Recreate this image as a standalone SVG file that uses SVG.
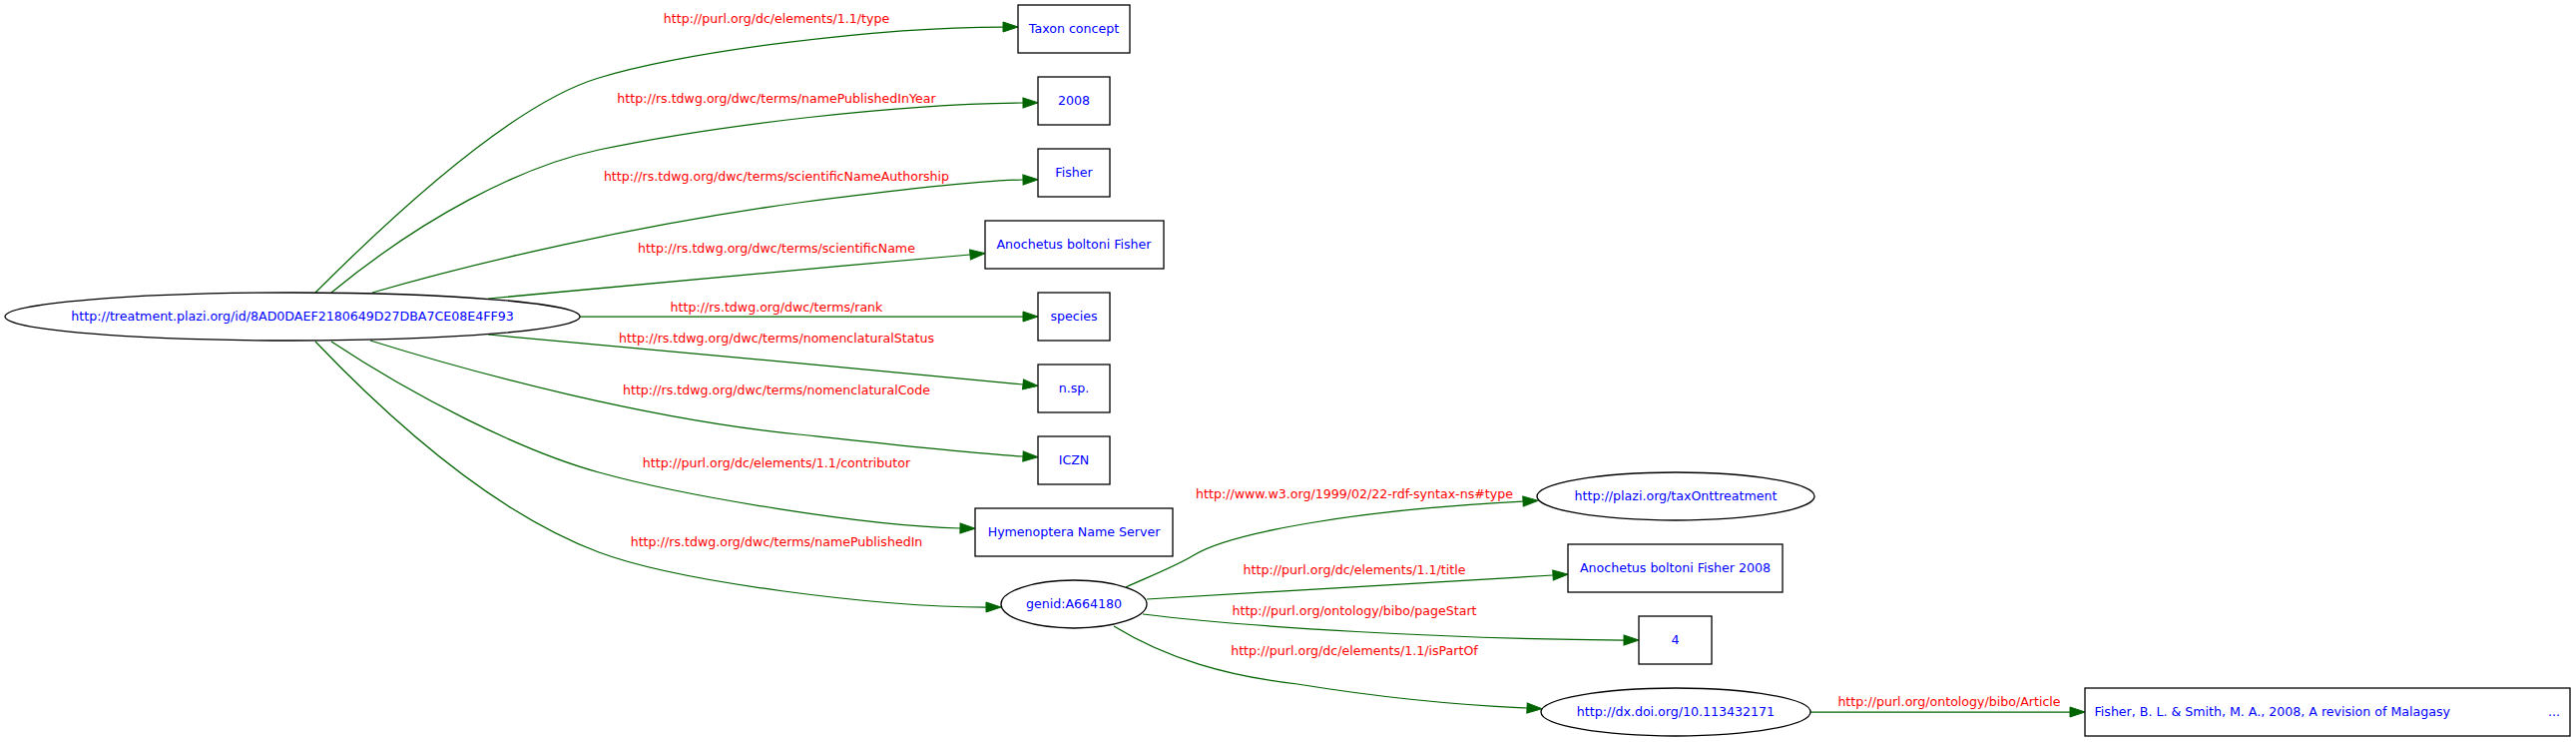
<svg xmlns="http://www.w3.org/2000/svg" width="2581" height="743" viewBox="0 0 2581 743">
<style>
.node ellipse,.node rect{fill:#fff;stroke:#000;stroke-width:1.3}
.nl{font-family:"DejaVu Sans",sans-serif;font-size:12.6px;fill:#0000ff;text-anchor:middle}
.el{font-family:"DejaVu Sans",sans-serif;font-size:12.6px;fill:#ff0000;text-anchor:middle}
.edges path{fill:none;stroke:#006400;stroke-width:1.25;marker-end:url(#arr)}
</style>
<defs>
<marker id="arr" markerUnits="userSpaceOnUse" markerWidth="16" markerHeight="11" refX="0" refY="5" orient="auto" overflow="visible">
<path d="M0,0 L15,5 L0,10 z" fill="#006400" stroke="#006400" stroke-width="1"/>
</marker>
</defs>
<rect width="2581" height="743" fill="#fff"/>
<g class="edges" id="edges">
<path d="M316,293 C386,223 510,105 600,78 C690,51 880,27 1005,27"/>
<path d="M332,293 C422,219 520,167 600,150 C720,125 900,104 1025,103"/>
<path d="M373,293 C480,262 640,225 800,203 C900,190 980,181 1025,180"/>
<path d="M489,299 C600,288 800,270 972,255"/>
<path d="M581,317 L1025,317"/>
<path d="M489,335 C650,350 850,368 1025,385"/>
<path d="M371,341 C480,375 650,420 800,435 C900,446 980,455 1025,457"/>
<path d="M332,342 C412,395 520,451 600,473 C690,498 870,527 962,529"/>
<path d="M316,342 C426,457 520,523 600,553 C680,583 880,608 988,608"/>
<path d="M1128,588 C1150,578 1180,566 1196,556 C1230,535 1350,511 1526,502"/>
<path d="M1149,600 C1300,592 1450,582 1556,576"/>
<path d="M1145,615 C1250,628 1450,640 1627,641"/>
<path d="M1116,627 C1170,660 1230,677 1300,685 C1380,698 1460,706 1530,709"/>
<path d="M1814,713 L2074,713"/>
<text class="el" x="778" y="22.5">http://purl.org/dc/elements/1.1/type</text>
<text class="el" x="778" y="102.7">http://rs.tdwg.org/dwc/terms/namePublishedInYear</text>
<text class="el" x="778" y="181">http://rs.tdwg.org/dwc/terms/scientificNameAuthorship</text>
<text class="el" x="778" y="252.7">http://rs.tdwg.org/dwc/terms/scientificName</text>
<text class="el" x="778" y="311.7">http://rs.tdwg.org/dwc/terms/rank</text>
<text class="el" x="778" y="343">http://rs.tdwg.org/dwc/terms/nomenclaturalStatus</text>
<text class="el" x="778" y="395">http://rs.tdwg.org/dwc/terms/nomenclaturalCode</text>
<text class="el" x="778" y="468">http://purl.org/dc/elements/1.1/contributor</text>
<text class="el" x="778" y="547">http://rs.tdwg.org/dwc/terms/namePublishedIn</text>
<text class="el" x="1357" y="499">http://www.w3.org/1999/02/22-rdf-syntax-ns#type</text>
<text class="el" x="1357" y="575">http://purl.org/dc/elements/1.1/title</text>
<text class="el" x="1357" y="616">http://purl.org/ontology/bibo/pageStart</text>
<text class="el" x="1357" y="656">http://purl.org/dc/elements/1.1/isPartOf</text>
<text class="el" x="1953" y="707">http://purl.org/ontology/bibo/Article</text>
</g>
<g class="node" id="n_treatment"><ellipse cx="293" cy="317" rx="288" ry="24"/><text class="nl" x="293" y="321.3">http://treatment.plazi.org/id/8AD0DAEF2180649D27DBA7CE08E4FF93</text></g>
<g class="node" id="n_type"><rect x="1020" y="5" width="112" height="48"/><text class="nl" x="1076" y="33.3">Taxon concept</text></g>
<g class="node" id="n_year"><rect x="1040" y="77" width="72" height="48"/><text class="nl" x="1076" y="105.3">2008</text></g>
<g class="node" id="n_author"><rect x="1040" y="149" width="72" height="48"/><text class="nl" x="1076" y="177.3">Fisher</text></g>
<g class="node" id="n_sciname"><rect x="987" y="221" width="179" height="48"/><text class="nl" x="1076" y="249.3">Anochetus boltoni Fisher</text></g>
<g class="node" id="n_rank"><rect x="1040" y="293" width="72" height="48"/><text class="nl" x="1076" y="321.3">species</text></g>
<g class="node" id="n_status"><rect x="1040" y="365" width="72" height="48"/><text class="nl" x="1076" y="393.3">n.sp.</text></g>
<g class="node" id="n_code"><rect x="1040" y="437" width="72" height="48"/><text class="nl" x="1076" y="465.3">ICZN</text></g>
<g class="node" id="n_contrib"><rect x="977" y="509" width="198" height="48"/><text class="nl" x="1076" y="537.3">Hymenoptera Name Server</text></g>
<g class="node" id="n_genid"><ellipse cx="1076" cy="605" rx="73" ry="24"/><text class="nl" x="1076" y="609.3">genid:A664180</text></g>
<g class="node" id="n_taxont"><ellipse cx="1679" cy="497" rx="139" ry="24"/><text class="nl" x="1679" y="501.3">http://plazi.org/taxOnttreatment</text></g>
<g class="node" id="n_title"><rect x="1571" y="545" width="215" height="48"/><text class="nl" x="1678.5" y="573.3">Anochetus boltoni Fisher 2008</text></g>
<g class="node" id="n_page"><rect x="1642" y="617" width="73" height="48"/><text class="nl" x="1678.5" y="645.3">4</text></g>
<g class="node" id="n_doi"><ellipse cx="1679" cy="713" rx="135" ry="24"/><text class="nl" x="1679" y="717.3">http://dx.doi.org/10.113432171</text></g>
<g class="node" id="n_article"><rect x="2089" y="689" width="486" height="48"/><text class="nl" style="text-anchor:start" y="717.3"><tspan x="2098.5">Fisher, B. L. &amp; Smith, M. A., 2008, A revision of Malagasy</tspan><tspan x="2553">...</tspan></text></g>
</svg>
